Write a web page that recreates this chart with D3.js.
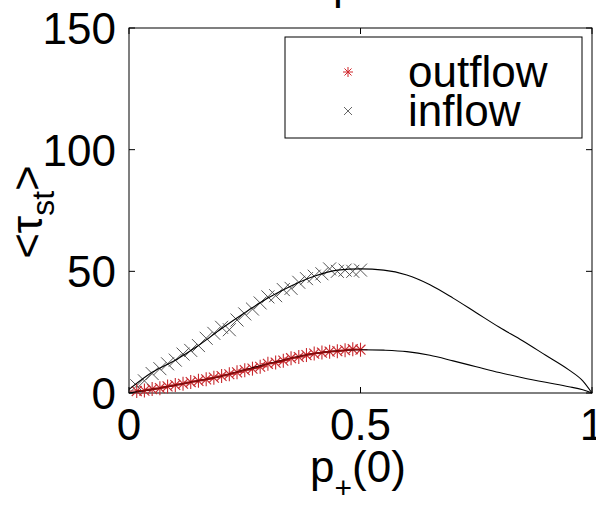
<!DOCTYPE html>
<html><head><meta charset="utf-8">
<script src="https://cdn.jsdelivr.net/npm/d3@7"></script>
<style>
html,body{margin:0;padding:0;background:#fff;}
svg{display:block;}
text{font-family:"Liberation Sans",Arial,sans-serif;fill:#000;}
</style></head>
<body>
<svg id="chart" width="596" height="505"></svg>
<script>
// ---- data ----
const theoryX = [0,0.05,0.1,0.15,0.2,0.25,0.3,0.35,0.4,0.45,0.5,0.55,0.6,0.65,0.7,0.75,0.8,0.85,0.9,0.95,0.98,1];
const inflowTheory = [1.5,8.5,13.5,19.5,26.5,33,39,44,48,50.5,51,50.5,48.5,44.5,39,33,27,21.5,15.5,9.5,5,0];
const outflowTheory = [0,1.5,3.2,5,7,9.5,12,14.3,16.2,17.3,17.8,17.6,17,15.5,13.2,10.8,8.4,6.3,4.4,2.6,1.3,0];
const markerX = [0.0167,0.0333,0.05,0.0667,0.0833,0.1,0.1167,0.1333,0.15,0.1667,0.1833,0.2,0.2167,0.2333,0.25,0.2667,0.2833,0.3,0.3167,0.3333,0.35,0.3667,0.3833,0.4,0.4167,0.4333,0.45,0.4667,0.4833,0.5];
const inflowData = [3,5,8,10,12,13.5,16,17.5,19.5,22.5,24.5,27,26,30,32.5,34.5,37,39.5,40,42.5,43,45.5,47,48,49,51,50,50.5,50,50.5];
const outflowData = [0.8,1,1.6,2,2.7,3.3,3.8,4.5,5,5.6,6.3,7,7.7,8.5,9.4,10,10.8,12,12.5,13.3,14.3,14.8,15.6,16.2,16.6,17,17.2,17.6,18,17.8];
const xTicks = [0,0.5,1];
const xTickLabels = ["0","0.5","1"];
const yTicks = [0,50,100,150];
const yTickLabels = ["0","50","100","150"];
const legendLabels = ["outflow","inflow"];

// ---- layout ----
const svg = d3.select("#chart");
const L = 129, R = 592, T = 28, B = 393;
const x = d3.scaleLinear().domain([0,1]).range([L,R]);
const y = d3.scaleLinear().domain([0,150]).range([B,T]);
const FS = 44;

// cut-off title fragment
svg.append("text").attr("x",333).attr("y",-1).attr("font-size",FS).text("p");

// axes box
svg.append("rect").attr("x",L).attr("y",T).attr("width",R-L).attr("height",B-T)
  .attr("fill","none").attr("stroke","#000").attr("stroke-width",1);

// ticks (inside, on all four sides)
const tl = 6;
xTicks.forEach(t=>{
  svg.append("line").attr("x1",x(t)).attr("x2",x(t)).attr("y1",B).attr("y2",B-tl).attr("stroke","#000");
  svg.append("line").attr("x1",x(t)).attr("x2",x(t)).attr("y1",T).attr("y2",T+tl).attr("stroke","#000");
});
yTicks.forEach(t=>{
  svg.append("line").attr("x1",L).attr("x2",L+tl).attr("y1",y(t)).attr("y2",y(t)).attr("stroke","#000");
  svg.append("line").attr("x1",R).attr("x2",R-tl).attr("y1",y(t)).attr("y2",y(t)).attr("stroke","#000");
});
xTicks.forEach((t,i)=>{
  svg.append("text").attr("x",x(t)).attr("y",B+47).attr("text-anchor","middle")
    .attr("font-size",FS).text(xTickLabels[i]);
});
yTicks.forEach((t,i)=>{
  svg.append("text").attr("x",L-13).attr("y",y(t)+16).attr("text-anchor","end")
    .attr("font-size",FS).text(yTickLabels[i]);
});

// axis labels
const xl = svg.append("text").attr("x",358).attr("y",482).attr("text-anchor","middle").attr("font-size",FS);
xl.append("tspan").text("p");
xl.append("tspan").attr("font-size",30).attr("dy",16).text("+");
xl.append("tspan").attr("dy",-16).text("(0)");

const yl = svg.append("text").attr("transform","translate(42,212) rotate(-90)")
  .attr("text-anchor","middle").attr("font-size",FS);
yl.append("tspan").text("<τ");
yl.append("tspan").attr("font-size",32).attr("dy",12).text("st");
yl.append("tspan").attr("dy",-12).text(">");

// marker shapes
function star(g, cx, cy, r, color, w){
  for(let k=0;k<4;k++){
    const a = k*Math.PI/4;
    g.append("line").attr("x1",cx-r*Math.cos(a)).attr("y1",cy-r*Math.sin(a))
      .attr("x2",cx+r*Math.cos(a)).attr("y2",cy+r*Math.sin(a))
      .attr("stroke",color).attr("stroke-width",w);
  }
}
function cross(g, cx, cy, r, color, w){
  g.append("line").attr("x1",cx-r).attr("y1",cy-r).attr("x2",cx+r).attr("y2",cy+r).attr("stroke",color).attr("stroke-width",w);
  g.append("line").attr("x1",cx-r).attr("y1",cy+r).attr("x2",cx+r).attr("y2",cy-r).attr("stroke",color).attr("stroke-width",w);
}

const marks = svg.append("g");
markerX.forEach((mx,i)=>{ cross(marks, x(mx), y(inflowData[i]), 6.5, "#555", 1); });
markerX.forEach((mx,i)=>{ star(marks, x(mx), y(outflowData[i]), 7, "#c8282d", 1.1); });

// theory lines
const line = d3.line().x((d,i)=>x(theoryX[i])).y(d=>y(d)).curve(d3.curveMonotoneX);
svg.append("path").attr("d",line(inflowTheory)).attr("fill","none").attr("stroke","#000").attr("stroke-width",1.1);
svg.append("path").attr("d",line(outflowTheory)).attr("fill","none").attr("stroke","#000").attr("stroke-width",1.1);
// data line for outflow (dark red)
const dline = d3.line().x((d,i)=>x(markerX[i])).y(d=>y(d));
svg.append("path").attr("d",dline(outflowData)).attr("fill","none").attr("stroke","#8a0a0a").attr("stroke-width",1.6);

// legend
const lg = svg.append("g");
lg.append("rect").attr("x",285).attr("y",37).attr("width",297).attr("height",101)
  .attr("fill","#fff").attr("stroke","#000").attr("stroke-width",1);
star(lg, 348, 72, 5, "#d0282d", 1);
cross(lg, 348, 111, 4, "#555", 0.9);
lg.append("text").attr("x",408).attr("y",87).attr("font-size",FS).text(legendLabels[0]);
lg.append("text").attr("x",408).attr("y",126).attr("font-size",FS).text(legendLabels[1]);
</script>
</body></html>
